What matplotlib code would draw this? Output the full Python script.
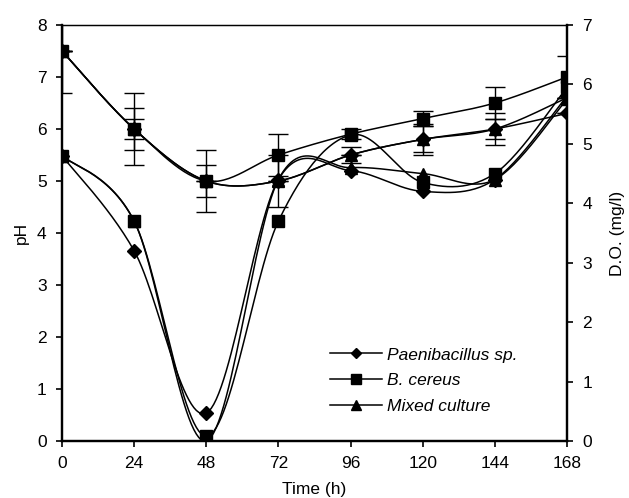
import numpy as np
import matplotlib.pyplot as plt
from matplotlib.lines import Line2D

plt.rcParams['font.family'] = ['Liberation Sans', 'DejaVu Sans']

# data
time_h = [0, 24, 48, 72, 96, 120, 144, 168]

ph_paeni = [7.5, 6.0, 5.0, 5.0, 5.5, 5.8, 6.0, 6.3]
ph_cereus = [7.5, 6.0, 5.0, 5.5, 5.9, 6.2, 6.5, 7.0]
ph_mixed = [7.5, 6.0, 5.0, 5.0, 5.5, 5.8, 6.0, 6.6]

ph_paeni_err = [0, 0.4, 0.3, 0, 0, 0.25, 0.3, 0]
ph_cereus_err = [0.8, 0.7, 0.6, 0.4, 0.1, 0.15, 0.3, 0.4]
ph_mixed_err = [0, 0.2, 0, 0.5, 0.15, 0.3, 0.2, 0]

do_paeni = [4.8, 3.2, 0.47, 4.4, 4.55, 4.2, 4.4, 5.8]
do_cereus = [4.8, 3.7, 0.08, 3.7, 5.15, 4.35, 4.5, 5.95]
do_mixed = [4.8, 3.7, 0.0, 4.4, 4.6, 4.5, 4.4, 5.75]

labels = ['Paenibacillus sp.', 'B. cereus', 'Mixed culture']
markers = ['D', 's', '^']
msizes = [7, 9, 9]


def smooth(x, y, sx, sy, n=30):
    # excel style smoothed line (catmull-rom bezier), done in pixel-ish space
    p = np.column_stack([np.asarray(x, float) * sx, np.asarray(y, float) * sy])
    ext = np.vstack([p[0], p, p[-1]])
    t = np.linspace(0, 1, n)[:, None]
    segs = []
    for i in range(len(p) - 1):
        p0, p1, p2, p3 = ext[i], ext[i + 1], ext[i + 2], ext[i + 3]
        c1 = p1 + (p2 - p0) / 6
        c2 = p2 - (p3 - p1) / 6
        segs.append((1 - t) ** 3 * p1 + 3 * (1 - t) ** 2 * t * c1
                    + 3 * (1 - t) * t ** 2 * c2 + t ** 3 * p2)
    pts = np.vstack(segs)
    return pts[:, 0] / sx, pts[:, 1] / sy


fig = plt.figure(figsize=(6.29, 4.98), dpi=100)
ax = fig.add_axes([0.0986, 0.1145, 0.8028, 0.8353])
ax2 = ax.twinx()

W, H = 505, 416
sx = W / 168

ph_sets = [(ph_paeni, ph_paeni_err), (ph_cereus, ph_cereus_err), (ph_mixed, ph_mixed_err)]
for (vals, err), m, ms in zip(ph_sets, markers, msizes):
    xs, ys = smooth(time_h, vals, sx, H / 8)
    ax.plot(xs, ys, color='black', lw=1.1)
    ax.errorbar(time_h, vals, yerr=err, fmt=m, ms=ms, color='black',
                ecolor='black', elinewidth=1.0, capsize=7, capthick=1.0)

for vals, m, ms in zip([do_paeni, do_cereus, do_mixed], markers, msizes):
    xs, ys = smooth(time_h, vals, sx, H / 7)
    ax2.plot(xs, ys, color='black', lw=1.1)
    ax2.plot(time_h, vals, m, ms=ms, color='black')

ax.set_xlim(0, 168)
ax.set_ylim(0, 8)
ax2.set_ylim(0, 7)
ax.set_xticks(time_h)
ax.set_yticks(range(0, 9))
ax2.set_yticks(range(0, 8))

for a in (ax, ax2):
    a.spines['left'].set_linewidth(1.6)
    a.spines['right'].set_linewidth(1.6)
    a.spines['bottom'].set_linewidth(1.6)
    a.spines['top'].set_linewidth(0.9)
    a.tick_params(direction='out', length=4, width=1.2, labelsize=12.5, pad=7)

ax.set_xlabel('Time (h)', fontsize=12.5, labelpad=8)
ax.set_ylabel('pH', fontsize=12.5, labelpad=6)
ax2.set_ylabel('D.O. (mg/l)', fontsize=12.5, labelpad=13)

handles = [Line2D([], [], color='black', lw=1.1, marker=m, ms=ms * 0.8)
           for m, ms in zip(markers, msizes)]
leg = ax2.legend(handles, labels, loc='lower left', bbox_to_anchor=(0.5, 0.028),
                 frameon=False, handlelength=3.0, handletextpad=0.3,
                 labelspacing=0.6, prop={'style': 'italic', 'size': 12.5})

fig.savefig('out.png', dpi=100)
